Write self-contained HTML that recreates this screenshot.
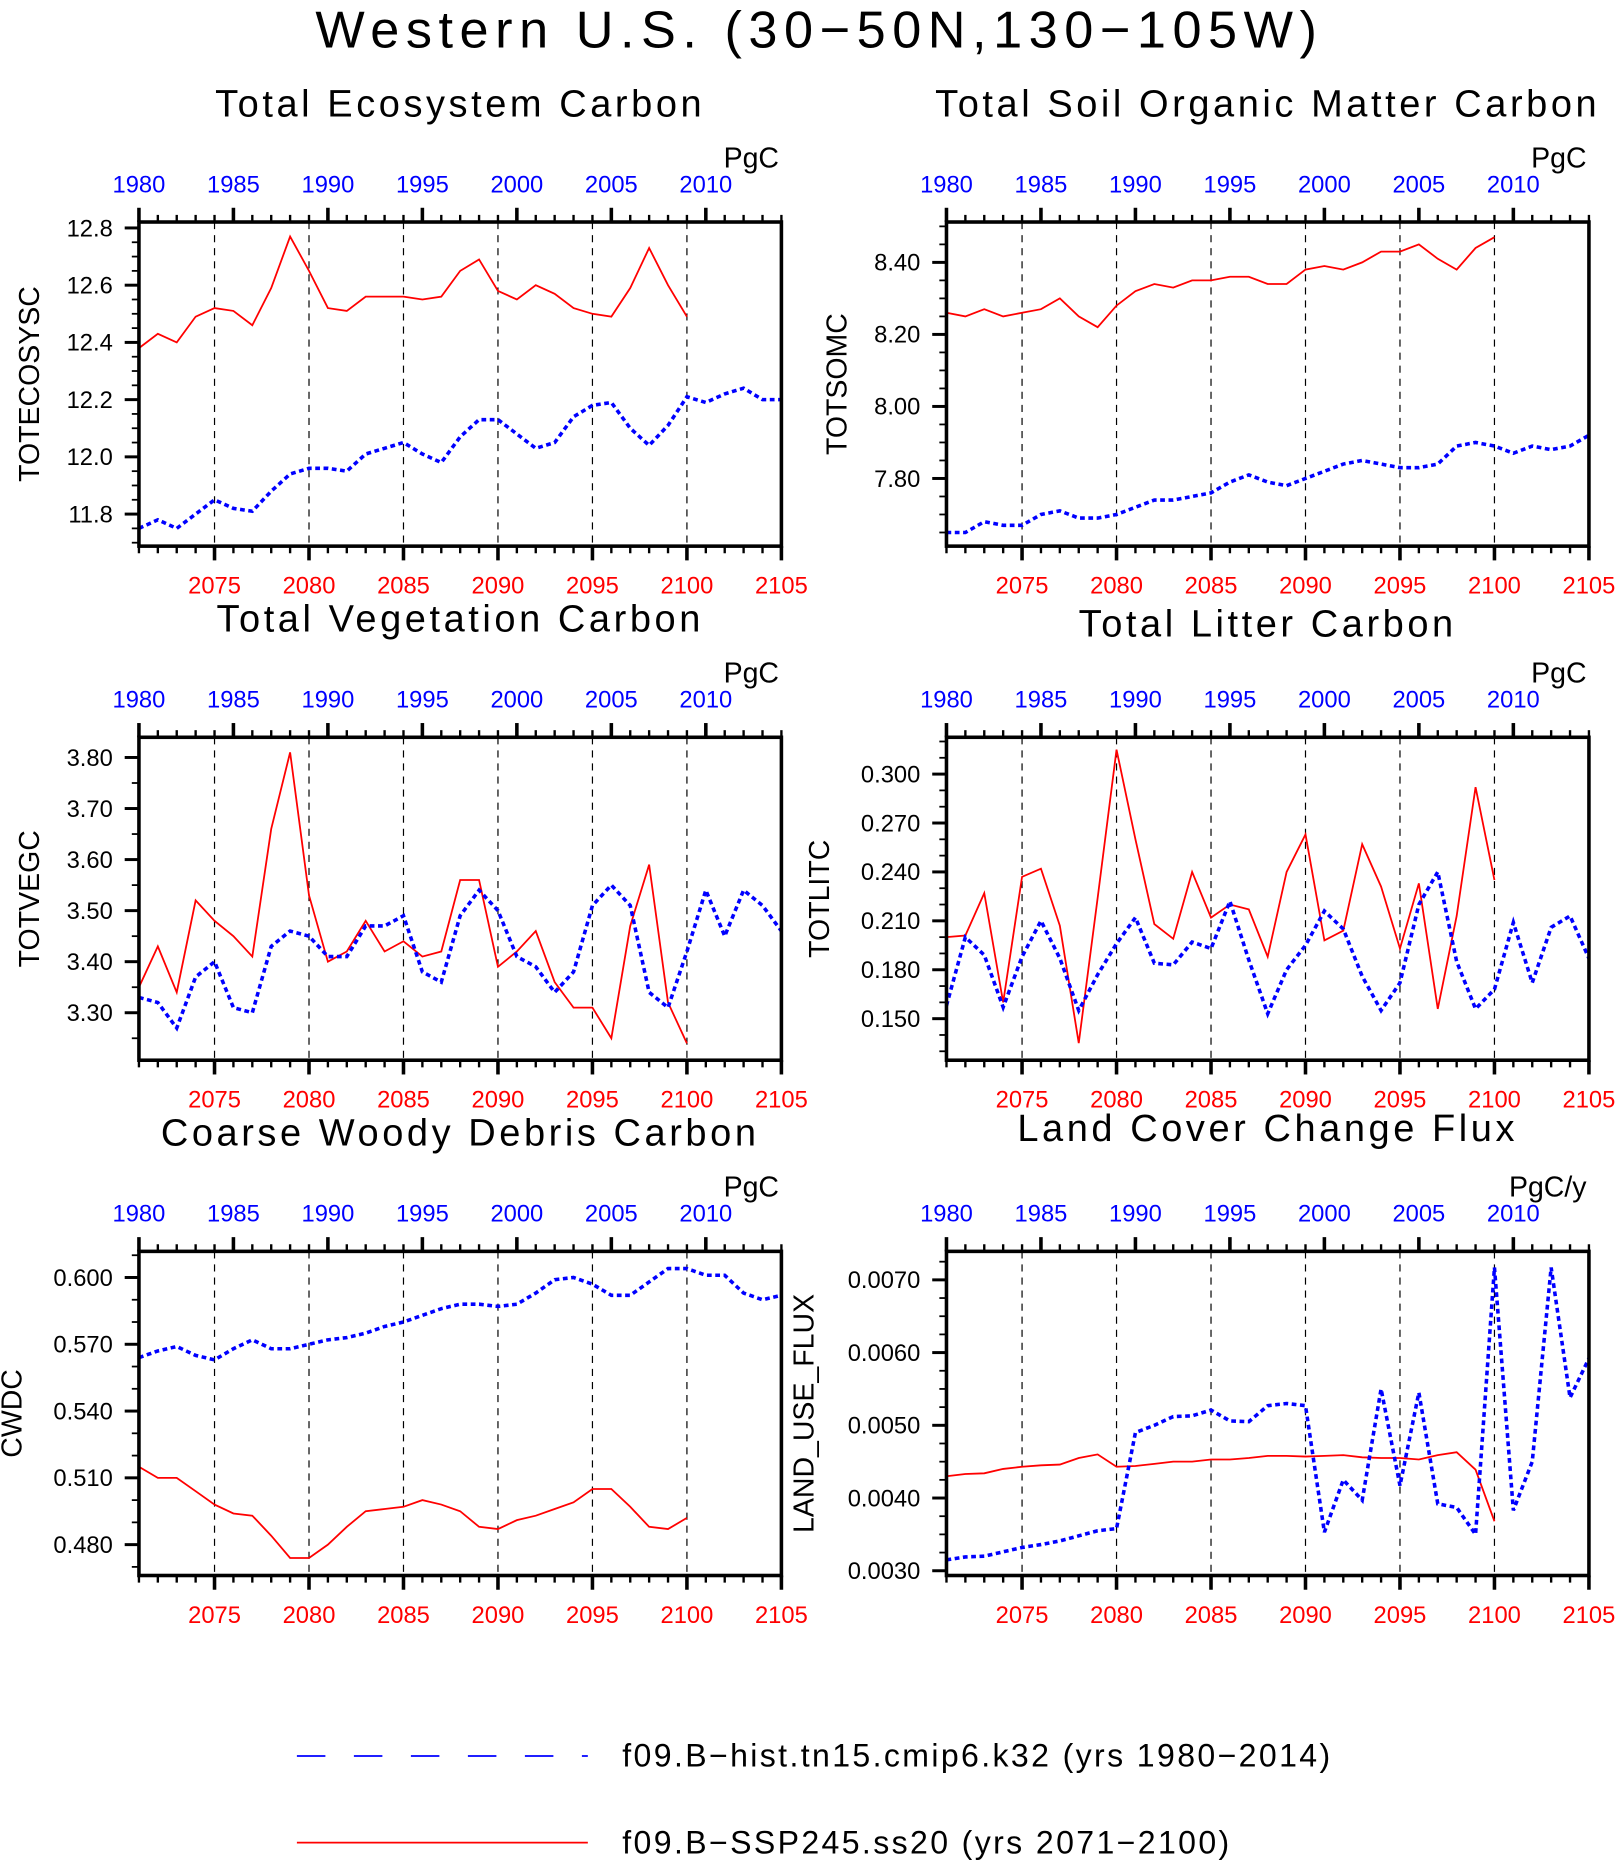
<!DOCTYPE html>
<html><head><meta charset="utf-8"><style>
html,body{margin:0;padding:0;background:#fff}
svg{display:block;font-family:"Liberation Sans",sans-serif}
</style></head><body>
<svg id="fig" width="1621" height="1864" viewBox="0 0 1365 1570" preserveAspectRatio="none" xmlns="http://www.w3.org/2000/svg">
<text x="690" y="40" font-size="44" text-anchor="middle" fill="#000" letter-spacing="5.5">Western U.S. (30−50N,130−105W)</text>
<g>
<line x1="250" y1="1479" x2="495" y2="1479" stroke="#00f" stroke-width="1.5" stroke-dasharray="24 24"/>
<text x="524" y="1488" font-size="27" letter-spacing="2">f09.B−hist.tn15.cmip6.k32 (yrs 1980−2014)</text>
<line x1="250" y1="1552" x2="495" y2="1552" stroke="#f00" stroke-width="1.5"/>
<text x="524" y="1561" font-size="27" letter-spacing="2">f09.B−SSP245.ss20 (yrs 2071−2100)</text>
</g>
</svg>
<script>
const topYears=[1980,1985,1990,1995,2000,2005,2010];
const botYears=[2075,2080,2085,2090,2095,2100,2105];
const tecRed=[12.38,12.43,12.40,12.49,12.52,12.51,12.46,12.59,12.77,12.65,12.52,12.51,12.56,12.56,12.56,12.55,12.56,12.65,12.69,12.58,12.55,12.60,12.57,12.52,12.50,12.49,12.59,12.73,12.60,12.49];
const tecBlue=[11.75,11.78,11.75,11.80,11.85,11.82,11.81,11.88,11.94,11.96,11.96,11.95,12.01,12.03,12.05,12.01,11.98,12.07,12.13,12.13,12.08,12.03,12.05,12.14,12.18,12.19,12.10,12.04,12.11,12.21,12.19,12.22,12.24,12.20,12.20];
const somRed=[8.26,8.25,8.27,8.25,8.26,8.27,8.30,8.25,8.22,8.28,8.32,8.34,8.33,8.35,8.35,8.36,8.36,8.34,8.34,8.38,8.39,8.38,8.40,8.43,8.43,8.45,8.41,8.38,8.44,8.47];
const somBlue=[7.65,7.65,7.68,7.67,7.67,7.70,7.71,7.69,7.69,7.70,7.72,7.74,7.74,7.75,7.76,7.79,7.81,7.79,7.78,7.80,7.82,7.84,7.85,7.84,7.83,7.83,7.84,7.89,7.90,7.89,7.87,7.89,7.88,7.89,7.92];
const vegRed=[3.35,3.43,3.34,3.52,3.48,3.45,3.41,3.66,3.81,3.53,3.40,3.42,3.48,3.42,3.44,3.41,3.42,3.56,3.56,3.39,3.42,3.46,3.36,3.31,3.31,3.25,3.47,3.59,3.32,3.24];
const vegBlue=[3.33,3.32,3.27,3.37,3.40,3.31,3.30,3.43,3.46,3.45,3.41,3.41,3.47,3.47,3.49,3.38,3.36,3.49,3.54,3.50,3.41,3.39,3.34,3.38,3.51,3.55,3.51,3.34,3.31,3.42,3.54,3.45,3.54,3.51,3.46];
const litRed=[0.200,0.201,0.227,0.160,0.237,0.242,0.207,0.135,0.224,0.315,0.260,0.208,0.199,0.240,0.212,0.220,0.217,0.188,0.240,0.263,0.198,0.204,0.257,0.231,0.193,0.233,0.156,0.213,0.292,0.235];
const litBlue=[0.158,0.200,0.189,0.157,0.188,0.210,0.187,0.155,0.177,0.196,0.212,0.184,0.183,0.197,0.193,0.222,0.186,0.153,0.180,0.195,0.216,0.205,0.176,0.155,0.172,0.220,0.240,0.185,0.156,0.168,0.209,0.172,0.206,0.213,0.187];
const cwdRed=[0.515,0.510,0.510,0.504,0.498,0.494,0.493,0.484,0.474,0.474,0.480,0.488,0.495,0.496,0.497,0.500,0.498,0.495,0.488,0.487,0.491,0.493,0.496,0.499,0.505,0.505,0.497,0.488,0.487,0.492];
const cwdBlue=[0.564,0.567,0.569,0.565,0.563,0.568,0.572,0.568,0.568,0.570,0.572,0.573,0.575,0.578,0.580,0.583,0.586,0.588,0.588,0.587,0.588,0.593,0.599,0.600,0.597,0.592,0.592,0.598,0.604,0.604,0.601,0.601,0.593,0.590,0.592];
const lucRed=[0.00430,0.00433,0.00434,0.00440,0.00443,0.00445,0.00446,0.00455,0.00460,0.00443,0.00444,0.00447,0.00450,0.00450,0.00453,0.00453,0.00455,0.00458,0.00458,0.00457,0.00458,0.00459,0.00456,0.00455,0.00455,0.00453,0.00459,0.00463,0.00439,0.00368];
const lucBlue=[0.00315,0.00319,0.00320,0.00326,0.00332,0.00336,0.00341,0.00348,0.00355,0.00358,0.00490,0.00500,0.00512,0.00513,0.00521,0.00506,0.00505,0.00527,0.00530,0.00527,0.00353,0.00425,0.00397,0.00550,0.00417,0.00545,0.00392,0.00387,0.00350,0.00717,0.00383,0.00450,0.00717,0.00538,0.00592];
const tecTicks=[11.8,12.0,12.2,12.4,12.6,12.8];
const somTicks=[7.8,8.0,8.2,8.4];
const vegTicks=[3.3,3.4,3.5,3.6,3.7,3.8];
const litTicks=[0.15,0.18,0.21,0.24,0.27,0.30];
const cwdTicks=[0.48,0.51,0.54,0.57,0.60];
const lucTicks=[0.003,0.004,0.005,0.006,0.007];

const svg=document.getElementById('fig');
const NS='http://www.w3.org/2000/svg';
function mk(tag,attrs,parent,text){const e=document.createElementNS(NS,tag);for(const k in attrs)e.setAttribute(k,attrs[k]);if(text!==undefined)e.textContent=text;(parent||svg).appendChild(e);return e;}

const panels=[
 {key:'ecosystem',title:'Total Ecosystem Carbon',ylab:'TOTECOSYSC',unit:'PgC',L:117,T:187,B:460,ty:88,red:tecRed,blue:tecBlue,ticks:tecTicks,v0:12.8,p0:192,v1:11.8,p1:433,dec:1,minor:4,ylx:25},
 {key:'soil',title:'Total Soil Organic Matter Carbon',ylab:'TOTSOMC',unit:'PgC',L:797,T:187,B:460,ty:88,red:somRed,blue:somBlue,ticks:somTicks,v0:8.4,p0:221,v1:7.8,p1:403,dec:2,minor:4,ylx:705},
 {key:'vegetation',title:'Total Vegetation Carbon',ylab:'TOTVEGC',unit:'PgC',L:117,T:621,B:893,ty:522,red:vegRed,blue:vegBlue,ticks:vegTicks,v0:3.8,p0:638,v1:3.3,p1:853,dec:2,minor:2,ylx:25},
 {key:'litter',title:'Total Litter Carbon',ylab:'TOTLITC',unit:'PgC',L:797,T:621,B:893,ty:526,red:litRed,blue:litBlue,ticks:litTicks,v0:0.30,p0:652,v1:0.15,p1:858,dec:3,minor:3,ylx:690},
 {key:'cwd',title:'Coarse Woody Debris Carbon',ylab:'CWDC',unit:'PgC',L:117,T:1054,B:1327,ty:955,red:cwdRed,blue:cwdBlue,ticks:cwdTicks,v0:0.60,p0:1076,v1:0.48,p1:1301,dec:3,minor:3,ylx:10},
 {key:'lcc',title:'Land Cover Change Flux',ylab:'LAND_USE_FLUX',unit:'PgC/y',L:797,T:1054,B:1327,ty:951,red:lucRed,blue:lucBlue,ticks:lucTicks,v0:0.007,p0:1078,v1:0.003,p1:1323,dec:4,minor:4,ylx:677}
];
const W=541;
panels.forEach(p=>{
 const g=mk('g',{});
 
 
 const R=p.L+W;
 const xs=i=>p.L+i*W/34;
 const ys=v=>p.p0+(v-p.v0)*(p.p1-p.p0)/(p.v1-p.v0);
 const t=mk('text',{x:p.L+W/2,y:p.ty+10,'font-size':32,'text-anchor':'middle','letter-spacing':3},g,p.title);
 
 
 const u=mk('text',{x:R-2,y:p.T-46,'font-size':24,'text-anchor':'end'},g,p.unit);
 
 
 for(let i=0;i<=34;i++){
  const x=xs(i);const major=(i%5===0);
  mk('line',{x1:x,y1:p.T,x2:x,y2:p.T-(major?12:6),stroke:'#000','stroke-width':major?3:2},g);
  mk('line',{x1:x,y1:p.B,x2:x,y2:p.B+(((i+1)%5===0)?12:6),stroke:'#000','stroke-width':((i+1)%5===0)?3:2},g);
 }
 topYears.forEach((yr,k)=>{
  const tl=mk('text',{x:xs(k*5),y:p.T-25,'font-size':20,'text-anchor':'middle',fill:'#00f'},g,yr);
  
  
 });
 botYears.forEach((yr,k)=>{
  const x=xs(4+k*5>34?34:4+k*5);
  if(k<6) mk('line',{x1:x,y1:p.T,x2:x,y2:p.B,stroke:'#000','stroke-width':1,'stroke-dasharray':'6 5'},g);
  const bl=mk('text',{x:x,y:p.B+40,'font-size':20,'text-anchor':'middle',fill:'#f00'},g,yr);
  
  
 });
 const step=p.ticks[1]-p.ticks[0];
 for(let k=-2;k<p.ticks.length+2;k++){
  for(let m=0;m<p.minor;m++){
   const v=p.ticks[0]+k*step+m*step/p.minor;
   const y=ys(v);
   if(y<p.T-1||y>p.B+1)continue;
   mk('line',{x1:p.L,y1:y,x2:p.L-(m===0?12:6),y2:y,stroke:'#000','stroke-width':m===0?2.5:1.5},g);
  }
 }
 p.ticks.forEach(v=>{
  const yl=mk('text',{x:p.L-22,y:ys(v)+7,'font-size':20,'text-anchor':'end'},g,v.toFixed(p.dec));
  
  
 });
 const yt=mk('text',{x:p.ylx+8,y:(p.T+p.B)/2,'font-size':24,'text-anchor':'middle',transform:`rotate(-90 ${p.ylx+8} ${(p.T+p.B)/2})`},g,p.ylab);
 
 
 const rp=mk('polyline',{points:p.red.map((v,i)=>xs(i)+','+ys(v)).join(' '),fill:'none',stroke:'#f00','stroke-width':1.5},g);
 
 
 const bp=mk('polyline',{points:p.blue.map((v,i)=>xs(i)+','+ys(v)).join(' '),fill:'none',stroke:'#00f','stroke-width':3,'stroke-dasharray':'4 3'},g);
 
 
 const fr=mk('rect',{x:p.L,y:p.T,width:W,height:p.B-p.T,fill:'none',stroke:'#000','stroke-width':3},g);
 
 
});
</script>
</body></html>
